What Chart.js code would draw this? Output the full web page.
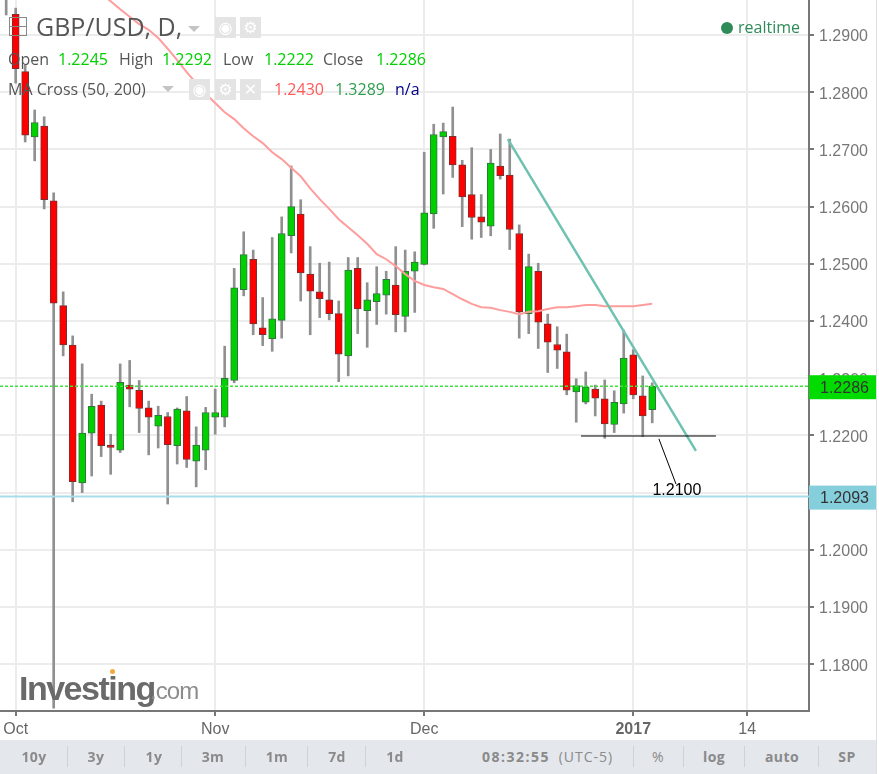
<!DOCTYPE html>
<html lang="en">

<head>
    <meta charset="UTF-8">
    <title>GBP/USD, D</title>
    <script src="https://cdn.jsdelivr.net/npm/chart.js"></script>
    <style>
        html, body { margin: 0; padding: 0; background: #fff; overflow: hidden; }
        #wrap { position: relative; width: 879px; height: 774px; font-family: "Open Sans", sans-serif; color: #555; }
        #chartBox { position: absolute; left: 0; top: 0; width: 879px; height: 740px; }
        .t { position: absolute; white-space: nowrap; line-height: 1; }
        .btn { position: absolute; top: 17px; width: 21px; height: 21px; background: #e4e4e4; color: #fff; font: bold 16px/21px "DejaVu Sans"; text-align: center; }
        .tri { position: absolute; width: 0; height: 0; border-left: 6px solid transparent; border-right: 6px solid transparent; border-top: 6px solid #c4c4c4; }
        #edge { position: absolute; left: 876px; top: 0; width: 1px; height: 774px; background: #dcdfe3; }
        #toolbar { position: absolute; left: 0; top: 740px; width: 876px; height: 34px; background: #e4e7ec; color: #8a8a8a; font-size: 14px; font-weight: 700; }
        #toolbar span { position: absolute; top: 9px; transform: translateX(-50%); white-space: nowrap; line-height: 1.2; letter-spacing: 0.4px; }
        #toolbar i { position: absolute; top: 6px; width: 1px; height: 21px; background: #ced1d6; }
    </style>
</head>

<body>
    <div id="wrap">
        <div id="chartBox"><canvas id="fxChart"></canvas></div>

        <!-- legend rows -->
        <div class="t" style="left:9px;top:17px;width:16px;height:17px;border:1px solid #888;"></div>
        <div class="t" style="left:9px;top:26px;width:17px;height:1px;background:#888;"></div>
        <div class="t" style="left:36px;top:14px;font-size:25px;">GBP/USD, D,</div>
        <div class="tri" style="left:188px;top:26px;"></div>
        <div class="btn" style="left:215px;">&#9673;</div>
        <div class="btn" style="left:240px;">&#9881;</div>

        <div class="t" style="left:8px;top:51px;font-size:16px;">Open</div>
        <div class="t" style="left:58px;top:51px;font-size:16px;color:#00d000;">1.2245</div>
        <div class="t" style="left:119px;top:51px;font-size:16px;">High</div>
        <div class="t" style="left:162px;top:51px;font-size:16px;color:#00d000;">1.2292</div>
        <div class="t" style="left:223px;top:51px;font-size:16px;">Low</div>
        <div class="t" style="left:264px;top:51px;font-size:16px;color:#00d000;">1.2222</div>
        <div class="t" style="left:323px;top:51px;font-size:16px;">Close</div>
        <div class="t" style="left:376px;top:51px;font-size:16px;color:#00d000;">1.2286</div>

        <div class="t" style="left:8px;top:81px;font-size:16px;">MA Cross (50, 200)</div>
        <div class="tri" style="left:162px;top:86px;"></div>
        <div class="btn" style="left:189px;top:79px;">&#9673;</div>
        <div class="btn" style="left:215px;top:79px;">&#9881;</div>
        <div class="btn" style="left:240px;top:79px;">&#10005;</div>
        <div class="t" style="left:274px;top:81px;font-size:16px;color:#ff5a5a;">1.2430</div>
        <div class="t" style="left:335px;top:81px;font-size:16px;color:#2e9e4f;">1.3289</div>
        <div class="t" style="left:395px;top:81px;font-size:16px;color:#000088;">n/a</div>

        <div class="t" style="left:721px;top:22px;width:12px;height:12px;border-radius:6px;background:#2e8b57;"></div>
        <div class="t" style="left:738px;top:19px;font-size:16px;color:#2e8b57;">realtime</div>

        <!-- watermark -->
        <div class="t" style="left:19px;top:669px;font:bold 34px 'Liberation Sans';letter-spacing:-1.5px;color:#6a6a6a;">Investing</div>
        <div class="t" style="left:150px;top:677px;font:24px 'Liberation Sans';letter-spacing:-0.9px;color:#8c8c8c;">.com</div>
        <div class="t" style="left:110px;top:669px;width:5px;height:5px;border-radius:3px;background:#f4a83c;"></div>

        <div id="edge"></div>
        <div id="toolbar">
            <span style="left:34px;">10y</span><i style="left:67px;"></i>
            <span style="left:96px;">3y</span><i style="left:124px;"></i>
            <span style="left:154px;">1y</span><i style="left:181px;"></i>
            <span style="left:213px;">3m</span><i style="left:245px;"></i>
            <span style="left:277px;">1m</span><i style="left:307px;"></i>
            <span style="left:337px;">7d</span><i style="left:365px;"></i>
            <span style="left:395px;">1d</span>
            <span style="left:516px;letter-spacing:1.5px;">08:32:55</span>
            <span style="left:586px;font-weight:400;letter-spacing:1px;">(UTC-5)</span><i style="left:633px;"></i>
            <span style="left:658px;font-weight:400;">%</span><i style="left:683px;"></i>
            <span style="left:714px;">log</span><i style="left:744px;"></i>
            <span style="left:782px;">auto</span><i style="left:818px;"></i>
            <span style="left:847px;">SP</span>
        </div>
    </div>

    <script>
        // Daily candles, first one only shows its lower wick at the top left corner
        const firstIndex = -1;
        const opens = [1.3010, 1.2936, 1.2836, 1.2722, 1.2741, 1.2610, 1.2427, 1.2358, 1.2117, 1.2204, 1.2253, 1.2183, 1.2174, 1.2288, 1.2279, 1.2248, 1.2216, 1.2233, 1.2182, 1.2243, 1.2155, 1.2174, 1.2232, 1.2232, 1.2296, 1.2455, 1.2508, 1.2388, 1.2369, 1.2401, 1.2549, 1.2587, 1.2482, 1.2451, 1.2437, 1.2413, 1.2339, 1.2492, 1.2418, 1.2434, 1.2445, 1.2463, 1.2408, 1.2487, 1.2499, 1.2587, 1.2722, 1.2723, 1.2673, 1.2621, 1.2582, 1.2566, 1.2671, 1.2655, 1.2553, 1.2413, 1.2487, 1.2395, 1.2359, 1.2346, 1.2276, 1.2258, 1.2281, 1.2264, 1.2219, 1.2255, 1.2341, 1.2269, 1.2245];
        const highs = [1.3040, 1.2947, 1.2848, 1.2769, 1.2757, 1.2624, 1.2451, 1.2374, 1.2325, 1.2272, 1.2260, 1.2202, 1.2325, 1.2331, 1.2296, 1.2260, 1.2251, 1.2240, 1.2248, 1.2268, 1.2215, 1.2249, 1.2281, 1.2356, 1.2492, 1.2556, 1.2524, 1.2441, 1.2546, 1.2582, 1.2671, 1.2612, 1.2530, 1.2501, 1.2503, 1.2435, 1.2511, 1.2511, 1.2467, 1.2495, 1.2487, 1.2530, 1.2524, 1.2521, 1.2695, 1.2744, 1.2746, 1.2774, 1.2681, 1.2703, 1.2621, 1.2700, 1.2727, 1.2718, 1.2568, 1.2517, 1.2501, 1.2412, 1.2390, 1.2377, 1.2299, 1.2311, 1.2288, 1.2297, 1.2278, 1.2384, 1.2350, 1.2304, 1.2292];
        const lows = [1.2935, 1.2816, 1.2713, 1.2680, 1.2596, 1.1723, 1.2339, 1.2084, 1.2100, 1.2129, 1.2163, 1.2132, 1.2170, 1.2250, 1.2205, 1.2166, 1.2178, 1.2080, 1.2150, 1.2144, 1.2110, 1.2140, 1.2202, 1.2215, 1.2292, 1.2444, 1.2376, 1.2357, 1.2347, 1.2370, 1.2519, 1.2435, 1.2376, 1.2406, 1.2402, 1.2294, 1.2304, 1.2378, 1.2354, 1.2394, 1.2412, 1.2381, 1.2381, 1.2415, 1.2498, 1.2562, 1.2622, 1.2651, 1.2565, 1.2543, 1.2546, 1.2549, 1.2648, 1.2525, 1.2370, 1.2378, 1.2352, 1.2310, 1.2317, 1.2271, 1.2223, 1.2255, 1.2234, 1.2195, 1.2205, 1.2239, 1.2264, 1.2198, 1.2222];
        const closes = [1.2975, 1.2841, 1.2725, 1.2747, 1.2612, 1.2431, 1.2358, 1.2119, 1.2204, 1.2251, 1.2182, 1.2179, 1.2293, 1.2281, 1.2247, 1.2232, 1.2235, 1.2184, 1.2246, 1.2158, 1.2183, 1.2240, 1.2240, 1.2300, 1.2458, 1.2516, 1.2395, 1.2376, 1.2404, 1.2553, 1.2600, 1.2484, 1.2452, 1.2439, 1.2413, 1.2342, 1.2489, 1.2421, 1.2437, 1.2448, 1.2473, 1.2411, 1.2487, 1.2503, 1.2589, 1.2726, 1.2731, 1.2673, 1.2617, 1.2581, 1.2573, 1.2676, 1.2654, 1.2560, 1.2416, 1.2495, 1.2398, 1.2363, 1.2349, 1.2279, 1.2287, 1.2285, 1.2265, 1.2220, 1.2258, 1.2335, 1.2271, 1.2234, 1.2286];

        // 50 day moving average, starts at candle 9
        const maStart = 9;
        const maValues = [1.2972, 1.2959, 1.2945, 1.2932, 1.2919, 1.2909, 1.2895, 1.2876, 1.2856, 1.2835, 1.2816, 1.2797, 1.2781, 1.2765, 1.2753, 1.2737, 1.2723, 1.2711, 1.2695, 1.2683, 1.2668, 1.2653, 1.2632, 1.2613, 1.2596, 1.2578, 1.2564, 1.2550, 1.2535, 1.2517, 1.2508, 1.2496, 1.2482, 1.2470, 1.2463, 1.2459, 1.2456, 1.2447, 1.2438, 1.2430, 1.2424, 1.2423, 1.2419, 1.2416, 1.2412, 1.2416, 1.2417, 1.2421, 1.2424, 1.2424, 1.2426, 1.2428, 1.2428, 1.2426, 1.2426, 1.2426, 1.2426, 1.2428, 1.2430];

        // Hand drawn lines on the chart, as [candle index, price]
        const trendLine = [[51.8, 1.2718], [71.6, 1.2173]];
        const supportLine = [[59.5, 1.2199], [73.7, 1.2199]];
        const pointerLine = [[67.7, 1.2194], [69.5, 1.2115]];
        const noteLabel = { x: 69.6, y: 1.2103, text: '1.2100' };

        const lastPrice = 1.2286;
        const bluePrice = 1.2093;

        const priceTicks = [1.18, 1.19, 1.20, 1.21, 1.22, 1.23, 1.24, 1.25, 1.26, 1.27, 1.28, 1.29];
        const timeTicks = [0, 21, 43, 65, 77];
        const timeLabels = ['Oct', 'Nov', 'Dec', '2017', '14'];

        const xMin = -1.65, xMax = 83.5;
        const yMin = 1.17182, yMax = 1.29612;

        const toPoints = pairs => pairs.map(p => ({ x: p[0], y: p[1] }));

        const wickData = highs.map((h, i) => ({ x: firstIndex + i, y: [lows[i], h] }));
        const bodyData = opens.map((o, i) => ({ x: firstIndex + i, y: [o, closes[i]] }));
        const maData = maValues.map((v, i) => ({ x: maStart + i, y: v }));
        const isUp = ctx => { const i = ctx.dataIndex; return closes[i] >= opens[i]; };

        function lineSet(data, color, width, extra) {
            return Object.assign({
                type: 'line', data: data, borderColor: color, borderWidth: width,
                pointRadius: 0, tension: 0, fill: false
            }, extra);
        }

        // Price boxes on the axis and the text note next to the pointer
        const overlayPlugin = {
            id: 'overlay',
            afterDraw(chart) {
                const c = chart.ctx, y = chart.scales.y, x = chart.scales.x;
                const box = (price, fill) => {
                    const py = y.getPixelForValue(price);
                    c.fillStyle = fill;
                    c.fillRect(809, py - 11, 67, 24);
                    c.fillStyle = '#333';
                    c.font = '16px "Liberation Sans"';
                    c.textAlign = 'left';
                    c.textBaseline = 'middle';
                    c.fillText(price.toFixed(4), 820, py + 2);
                };
                box(lastPrice, '#00dc00');
                box(bluePrice, '#85cfdc');

                c.fillStyle = '#000';
                c.font = '16px "Liberation Sans"';
                c.textAlign = 'center';
                c.textBaseline = 'middle';
                c.fillText(noteLabel.text, x.getPixelForValue(noteLabel.x), y.getPixelForValue(noteLabel.y));
            }
        };

        const ctx = document.getElementById('fxChart').getContext('2d');
        new Chart(ctx, {
            type: 'bar',
            data: {
                datasets: [
                    lineSet([{ x: xMin, y: lastPrice }, { x: xMax, y: lastPrice }], '#3fe23f', 1.5, { borderDash: [3, 2], order: 0 }),
                    lineSet([{ x: xMin, y: bluePrice }, { x: xMax, y: bluePrice }], '#a5dde8', 2, { order: 0 }),
                    lineSet(toPoints(supportLine), '#000', 1.2, { order: 0 }),
                    lineSet(toPoints(pointerLine), '#000', 1, { order: 0 }),
                    lineSet(toPoints(trendLine), '#6fc1b1', 2.5, { order: 0 }),
                    lineSet(maData, '#ff9c9c', 2, { order: 1 }),
                    {
                        data: bodyData, grouped: false, barThickness: 7, borderWidth: 1, borderSkipped: false, order: 2,
                        backgroundColor: c => isUp(c) ? '#00d000' : '#ff0000',
                        borderColor: c => isUp(c) ? '#33733f' : '#7a3030'
                    },
                    { data: wickData, grouped: false, barThickness: 2, backgroundColor: '#909090', order: 3 }
                ]
            },
            options: {
                responsive: true,
                maintainAspectRatio: false,
                animation: false,
                events: [],
                layout: { padding: 0 },
                plugins: { legend: { display: false }, tooltip: { enabled: false } },
                scales: {
                    x: {
                        type: 'linear',
                        offset: false,
                        min: xMin,
                        max: xMax,
                        afterBuildTicks: s => { s.ticks = timeTicks.map(v => ({ value: v })); },
                        afterFit: s => { s.height = 29; s.paddingLeft = 0; s.paddingRight = 0; },
                        grid: { offset: false, color: '#ececec', lineWidth: 2, tickColor: '#777', tickLength: 5 },
                        border: { color: '#777', width: 2 },
                        ticks: {
                            autoSkip: false,
                            maxRotation: 0,
                            padding: 4,
                            color: '#666',
                            font: c => ({ family: 'Liberation Sans', size: 16, weight: c.tick && c.tick.value === 65 ? 'bold' : 'normal' }),
                            callback: v => timeLabels[timeTicks.indexOf(v)]
                        }
                    },
                    y: {
                        position: 'right',
                        min: yMin,
                        max: yMax,
                        afterBuildTicks: s => { s.ticks = priceTicks.map(v => ({ value: v })); },
                        afterFit: s => { s.width = 70; s.paddingTop = 0; s.paddingBottom = 0; },
                        grid: { color: '#ececec', lineWidth: 2, tickColor: '#777', tickLength: 5 },
                        border: { color: '#777', width: 2 },
                        ticks: {
                            padding: 5,
                            labelOffset: 2,
                            color: '#777',
                            font: { family: 'Liberation Sans', size: 16 },
                            callback: v => v.toFixed(4)
                        }
                    }
                }
            },
            plugins: [overlayPlugin]
        });
    </script>
</body>

</html>
